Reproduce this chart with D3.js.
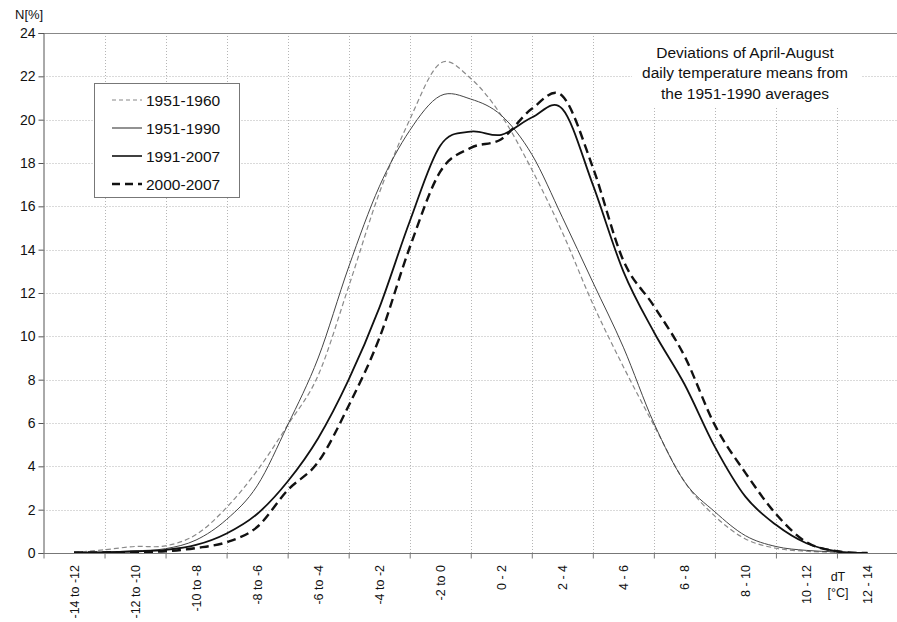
<!DOCTYPE html>
<html><head><meta charset="utf-8">
<script src="https://cdn.jsdelivr.net/npm/d3@7"></script>
<style>
html,body{margin:0;padding:0;background:#fff;}
svg{display:block;font-family:"Liberation Sans",Arial,sans-serif;}
</style></head>
<body>
<svg id="chart" width="897" height="622"></svg>
<script>
// ---------- data ----------
const temps = [-13,-12,-11,-10,-9,-8,-7,-6,-5,-4,-3,-2,-1,0,1,2,3,4,5,6,7,8,9,10,11,12,13];
const s1951_1960 = [0.02,0.15,0.30,0.33,0.85,2.1,3.8,5.9,8.2,12.3,16.6,20.0,22.6,21.9,20.2,17.7,14.8,11.5,8.6,5.9,3.3,1.7,0.65,0.22,0.08,0.03,0];
const s1951_1990 = [0.02,0.05,0.10,0.20,0.6,1.55,3.1,5.9,9.0,13.2,16.9,19.5,21.1,20.95,20.2,18.4,15.5,12.5,9.5,6.0,3.3,1.9,0.8,0.3,0.12,0.05,0];
const s1991_2007 = [0.02,0.03,0.07,0.14,0.37,0.9,1.8,3.3,5.3,8.0,11.3,15.3,18.8,19.45,19.3,20.1,20.5,17.0,13.0,10.2,7.8,4.9,2.6,1.3,0.45,0.08,0];
const s2000_2007 = [0.02,0.03,0.05,0.08,0.23,0.5,1.2,2.9,4.2,6.8,9.9,14.1,17.6,18.7,19.1,20.5,21.1,17.8,13.5,11.4,9.1,5.9,3.7,1.8,0.5,0.08,0];
const seriesNames = ["1951-1960","1951-1990","1991-2007","2000-2007"];
const categories = ["-14 to -12","-12 to -10","-10 to -8","-8 to -6","-6 to -4","-4 to -2","-2 to 0","0 - 2","2 - 4","4 - 6","6 - 8","8 - 10","10 - 12","12 - 14"];
const categoryCenters = [-13,-11,-9,-7,-5,-3,-1,1,3,5,7,9,11,13];
const boundaryTicks = [-14,-12,-10,-8,-6,-4,-2,0,2,4,6,8,10,12];
const yTicks = [0,2,4,6,8,10,12,14,16,18,20,22,24];
const annotation = ["Deviations of April-August","daily temperature means from","the 1951-1990 averages"];

// ---------- styles ----------
const styles = [
  {stroke:"#8a8a8a", width:1.2, dash:"5,3", legendStroke:"#b0b0b0"},
  {stroke:"#444", width:1.0, dash:null, legendStroke:"#777"},
  {stroke:"#111", width:1.8, dash:null, legendStroke:"#111"},
  {stroke:"#111", width:2.4, dash:"9,5", legendStroke:"#111"}
];
const allSeries = [s1951_1960, s1951_1990, s1991_2007, s2000_2007];

const svg = d3.select("#chart");
const x = d3.scaleLinear().domain([-14,14]).range([43.5,898]);
const y = d3.scaleLinear().domain([0,24]).range([553,33]);

svg.append("clipPath").attr("id","plotclip").append("rect")
  .attr("x",43).attr("y",33).attr("width",897-43).attr("height",520);

// gridlines
const grid = svg.append("g");
grid.selectAll("line.h").data(yTicks.filter(d=>d>0 && d<24)).join("line")
  .attr("x1",43.5).attr("x2",897).attr("y1",d=>Math.round(y(d))+0.5).attr("y2",d=>Math.round(y(d))+0.5)
  .attr("stroke","#b5b5b5").attr("stroke-width",1).attr("stroke-dasharray","1,2");
grid.selectAll("line.v").data(boundaryTicks.filter(d=>d>-14)).join("line")
  .attr("x1",d=>Math.round(x(d))+0.5).attr("x2",d=>Math.round(x(d))+0.5).attr("y1",33).attr("y2",553)
  .attr("stroke","#b5b5b5").attr("stroke-width",1).attr("stroke-dasharray","1,2");

// white box behind annotation
svg.append("rect").attr("x",632).attr("y",34).attr("width",230).attr("height",74).attr("fill","#fff");

// top border
svg.append("line").attr("x1",43.5).attr("x2",897).attr("y1",33.5).attr("y2",33.5)
  .attr("stroke","#888").attr("stroke-width",1);

// axes
const yAxis = d3.axisLeft(y).tickValues(yTicks).tickSize(5).tickPadding(3);
const gy = svg.append("g").attr("transform","translate(43.5,0)").call(yAxis);
gy.select(".domain").attr("stroke","#555");
gy.selectAll(".tick line").attr("stroke","#555");
gy.selectAll(".tick text").attr("font-size","14px").attr("fill","#111")
  .attr("font-family","'Liberation Sans',Arial,sans-serif");

const xAxis = d3.axisBottom(x).tickValues(boundaryTicks).tickSize(5).tickFormat("");
const gx = svg.append("g").attr("transform","translate(0,553.5)").call(xAxis);
gx.select(".domain").attr("d","M43.5,0H897").attr("stroke","#777");
gx.selectAll(".tick line").attr("stroke","#777");

// category labels rotated
svg.append("g").selectAll("text").data(categories).join("text")
  .attr("transform",(d,i)=>`translate(${x(categoryCenters[i])+4.5},565) rotate(-90)`)
  .attr("text-anchor","end").attr("font-size","12.5px").attr("fill","#111").text(d=>d);

// dT [°C]
svg.append("text").attr("x",x(12)+1).attr("y",581).attr("text-anchor","middle")
  .attr("font-size","12.5px").attr("fill","#111").text("dT");
svg.append("text").attr("x",x(12)+1).attr("y",597).attr("text-anchor","middle")
  .attr("font-size","12.5px").attr("fill","#111").text("[°C]");

// N[%]
svg.append("text").attr("x",15).attr("y",19).attr("font-size","13px").attr("fill","#111").text("N[%]");

// annotation
svg.append("g").selectAll("text").data(annotation).join("text")
  .attr("x",745).attr("y",(d,i)=>57.5+i*20.5).attr("text-anchor","middle")
  .attr("font-size","15.5px").attr("fill","#111").text(d=>d);

// lines
const line = d3.line().x((d,i)=>x(temps[i])).y(d=>y(d)).curve(d3.curveCardinal.tension(0));
const lg = svg.append("g").attr("clip-path","url(#plotclip)");
allSeries.forEach((s,k)=>{
  lg.append("path").datum(s).attr("d",line).attr("fill","none")
    .attr("stroke",styles[k].stroke).attr("stroke-width",styles[k].width)
    .attr("stroke-dasharray",styles[k].dash).attr("stroke-linejoin","round");
});

// legend
const leg = svg.append("g");
leg.append("rect").attr("x",94.5).attr("y",83.5).attr("width",145).attr("height",114)
  .attr("fill","#fff").attr("stroke","#777").attr("stroke-width",1);
seriesNames.forEach((n,k)=>{
  const yy = 100 + k*28;
  leg.append("line").attr("x1",112).attr("x2",142).attr("y1",yy).attr("y2",yy)
    .attr("stroke",styles[k].legendStroke).attr("stroke-width",k===3?2.4:(k===0?1.3:1.6))
    .attr("stroke-dasharray",k===0?"4,3":(k===3?"8,5":null));
  leg.append("text").attr("x",146).attr("y",yy+5.5).attr("font-size","15.5px").attr("fill","#111").text(n);
});
</script>
</body></html>
